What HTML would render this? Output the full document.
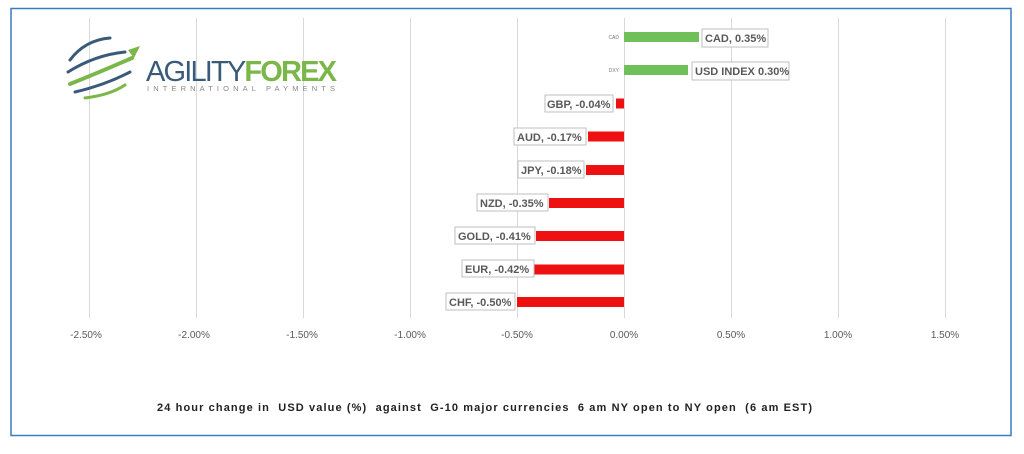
<!DOCTYPE html>
<html><head><meta charset="utf-8"><style>
body{margin:0;width:1024px;height:449px;background:#fff;overflow:hidden;font-family:"Liberation Sans",sans-serif}
text{white-space:pre}
</style></head><body>
<svg width="1024" height="449" xmlns="http://www.w3.org/2000/svg" font-family="Liberation Sans, sans-serif">
<rect x="11" y="8.5" width="1000" height="427" fill="#fff" stroke="#3a7cc0" stroke-width="1.5"/>
<g stroke="#d9d9d9" stroke-width="1">
<line x1="89.5" y1="18" x2="89.5" y2="318"/><line x1="196.5" y1="18" x2="196.5" y2="318"/>
<line x1="303.5" y1="18" x2="303.5" y2="318"/><line x1="410.5" y1="18" x2="410.5" y2="318"/>
<line x1="517.5" y1="18" x2="517.5" y2="318"/><line x1="624.5" y1="18" x2="624.5" y2="318"/>
<line x1="731.5" y1="18" x2="731.5" y2="318"/><line x1="838.5" y1="18" x2="838.5" y2="318"/>
<line x1="945.5" y1="18" x2="945.5" y2="318"/>
</g>
<g font-size="10" fill="#595959" text-anchor="middle">
<text x="86" y="338">-2.50%</text><text x="194" y="338">-2.00%</text><text x="302" y="338">-1.50%</text>
<text x="410" y="338">-1.00%</text><text x="517" y="338">-0.50%</text><text x="624" y="338">0.00%</text>
<text x="731" y="338">0.50%</text><text x="838" y="338">1.00%</text><text x="945" y="338">1.50%</text>
</g>
<!-- logo -->
<g fill="none" stroke-linecap="round">
<path d="M70 60 Q85 40 110 38" stroke="#3a5a7a" stroke-width="3"/>
<path d="M68 72 Q95 55 125 52" stroke="#3a5a7a" stroke-width="3"/>
<path d="M70 84 Q100 72 132 58" stroke="#7ab648" stroke-width="4"/>
<path d="M75 92 Q105 85 130 72" stroke="#3a5a7a" stroke-width="3"/>
<path d="M85 98 Q110 95 125 85" stroke="#7ab648" stroke-width="3"/>
</g>
<polygon points="128,50 140,46 134,58" fill="#7ab648"/>
<text x="146" y="81" font-size="29" fill="#3a5a7a" letter-spacing="-1" textLength="190">AGILITY<tspan fill="#7ab648" font-weight="bold">FOREX</tspan></text>
<text x="147" y="91" font-size="7.5" fill="#888" textLength="188">INTERNATIONAL PAYMENTS</text>
<!-- bars -->
<g>
<rect x="624" y="32" width="75" height="10" fill="#70c05a"/>
<rect x="624" y="65" width="64" height="10" fill="#70c05a"/>
<rect x="616" y="98.5" width="8" height="10" fill="#ee1111"/>
<rect x="588" y="131.5" width="36" height="10" fill="#ee1111"/>
<rect x="586" y="165" width="38" height="10" fill="#ee1111"/>
<rect x="549" y="198" width="75" height="10" fill="#ee1111"/>
<rect x="536" y="231" width="88" height="10" fill="#ee1111"/>
<rect x="534" y="264.5" width="90" height="10" fill="#ee1111"/>
<rect x="517" y="297" width="107" height="10" fill="#ee1111"/>
</g>
<g font-size="5" fill="#777" text-anchor="end"><text x="619" y="39">CAD</text><text x="619" y="72">DXY</text></g>
<g font-size="11" font-weight="bold" fill="#595959">
<g stroke="#bfbfbf" fill="#fff">
<rect x="702" y="29" width="66" height="18"/><rect x="692" y="62" width="97" height="18"/>
<rect x="545" y="95" width="68" height="17"/><rect x="514" y="128" width="72" height="17"/>
<rect x="518" y="161" width="66" height="17"/><rect x="477" y="194" width="71" height="17"/>
<rect x="455" y="227" width="80" height="17"/><rect x="462" y="260" width="72" height="17"/>
<rect x="446" y="293" width="69" height="17"/>
</g>
<text x="705" y="42">CAD, 0.35%</text><text x="695" y="75">USD INDEX 0.30%</text>
<text x="547" y="108">GBP, -0.04%</text><text x="517" y="141">AUD, -0.17%</text>
<text x="521" y="174">JPY, -0.18%</text><text x="480" y="207">NZD, -0.35%</text>
<text x="458" y="240">GOLD, -0.41%</text><text x="465" y="273">EUR, -0.42%</text>
<text x="449" y="306">CHF, -0.50%</text>
</g>
<text x="157" y="411" font-size="11" font-weight="bold" fill="#222" textLength="655" lengthAdjust="spacing">24 hour change in  USD value (%)  against  G-10 major currencies  6 am NY open to NY open  (6 am EST)</text>
</svg>
</body></html>
